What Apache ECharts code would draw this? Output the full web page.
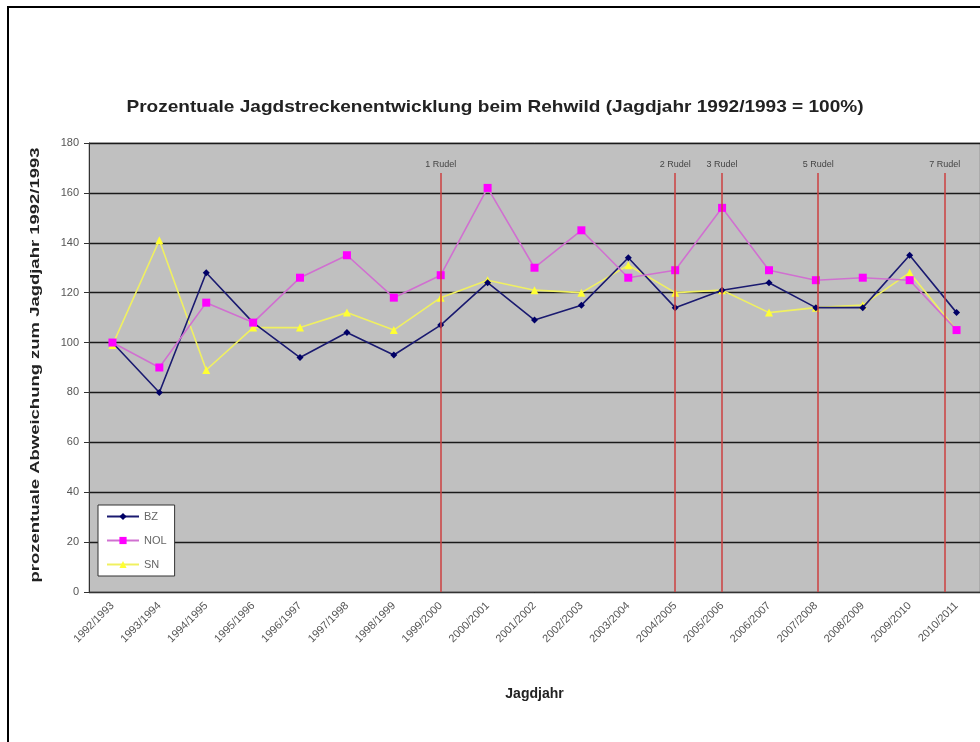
<!DOCTYPE html>
<html>
<head>
<meta charset="utf-8">
<script src="https://cdn.jsdelivr.net/npm/echarts@6/dist/echarts.min.js"></script>
<style>
  html, body { margin: 0; padding: 0; background: #fff; }
  #chart { width: 980px; height: 742px; }
</style>
</head>
<body>
<div id="chart"></div>
<script>
// Jagdjahre
var years = ['1992/1993', '1993/1994', '1994/1995', '1995/1996', '1996/1997', '1997/1998',
    '1998/1999', '1999/2000', '2000/2001', '2001/2002', '2002/2003', '2003/2004',
    '2004/2005', '2005/2006', '2006/2007', '2007/2008', '2008/2009', '2009/2010', '2010/2011'];

// prozentuale Werte (1992/1993 = 100)
var bz = [100, 80, 128, 108, 94, 104, 95, 107, 124, 109, 115, 134, 114, 121, 124, 114, 114, 135, 112];
var nol = [100, 90, 116, 108, 126, 135, 118, 127, 162, 130, 145, 126, 129, 154, 129, 125, 126, 125, 105];
var sn = [99, 141, 89, 106, 106, 112, 105, 118, 125, 121, 120, 131, 120, 121, 112, 114, 115, 128, 105];

// Rudel-Markierungen (Position auf der Jahresachse, 0 = 1992/1993)
var rudelNames = ['1 Rudel', '2 Rudel', '3 Rudel', '5 Rudel', '7 Rudel'];
var rudelPos = [7, 12, 13, 15.05, 17.75];
var rudelTop = 168;

var yTicks = [0, 180, 20];

var chart = echarts.init(document.getElementById('chart'));

var rudelLines = [];
for (var i = 0; i < rudelPos.length; i++) {
    rudelLines.push([
        {coord: [rudelPos[i], 0]},
        {coord: [rudelPos[i], rudelTop], name: rudelNames[i]}
    ]);
}

var font = 'Liberation Sans';

var option = {
    backgroundColor: '#fff',
    animation: false,
    graphic: [{
        type: 'rect',
        shape: {x: 8, y: 7, width: 1000, height: 800},
        style: {fill: null, stroke: '#000', lineWidth: 2},
        silent: true
    }, {
        // Titel
        type: 'text',
        x: 495,
        y: 107,
        scaleX: 1.12,
        silent: true,
        style: {
            text: 'Prozentuale Jagdstreckenentwicklung beim Rehwild (Jagdjahr 1992/1993 = 100%)',
            font: 'bold 17px "Liberation Sans"',
            fill: '#222',
            align: 'center',
            verticalAlign: 'middle'
        }
    }, {
        type: 'text',
        x: 35,
        y: 365,
        rotation: Math.PI / 2,
        scaleX: 1.42,
        silent: true,
        style: {
            text: 'prozentuale Abweichung zum Jagdjahr 1992/1993',
            font: 'bold 13px "Liberation Sans"',
            fill: '#222',
            align: 'center',
            verticalAlign: 'middle'
        }
    }],
    legend: {
        orient: 'vertical',
        left: 98,
        top: 505,
        backgroundColor: '#fff',
        borderColor: '#333',
        borderWidth: 1,
        padding: [6, 8, 6, 8],
        itemWidth: 32,
        itemHeight: 9,
        itemGap: 13,
        textStyle: {fontFamily: font, fontSize: 11, color: '#666'},
        data: ['BZ', 'NOL', 'SN']
    },
    grid: {
        left: 89,
        top: 143,
        width: 896,
        height: 449,
        show: true,
        backgroundColor: '#c0c0c0',
        borderColor: '#999',
        borderWidth: 1
    },
    xAxis: [{
        type: 'category',
        data: years,
        boundaryGap: true,
        name: 'Jagdjahr',
        nameLocation: 'middle',
        nameGap: 95,
        nameTextStyle: {fontFamily: font, fontSize: 14, fontWeight: 'bold', color: '#222'},
        axisLine: {lineStyle: {color: '#333', width: 1}},
        axisTick: {inside: true, length: 4, lineStyle: {color: '#333'}},
        axisLabel: {rotate: 45, fontSize: 11, margin: 12, fontFamily: font, color: '#555'},
        splitLine: {show: false}
    }, {
        type: 'value',
        min: -0.5,
        max: 18.5,
        show: false
    }],
    yAxis: {
        type: 'value',
        min: yTicks[0],
        max: yTicks[1],
        interval: yTicks[2],
        axisLine: {show: true, onZero: false, lineStyle: {color: '#333'}},
        axisTick: {show: true, length: 5, lineStyle: {color: '#333'}},
        axisLabel: {fontSize: 11, margin: 10, fontFamily: font, color: '#555'},
        splitLine: {lineStyle: {color: '#1a1a1a', width: 1.3}}
    },
    series: [{
        name: 'BZ',
        type: 'line',
        data: bz,
        symbol: 'diamond',
        symbolSize: 7,
        itemStyle: {color: '#000066'},
        lineStyle: {color: '#1a1a70', width: 1.6},
        z: 3
    }, {
        name: 'NOL',
        type: 'line',
        data: nol,
        symbol: 'rect',
        symbolSize: 8,
        itemStyle: {color: '#ff00ff'},
        lineStyle: {color: '#d070d0', width: 1.6},
        z: 4
    }, {
        name: 'SN',
        type: 'line',
        data: sn,
        symbol: 'triangle',
        symbolSize: 8,
        itemStyle: {color: '#ffff33'},
        lineStyle: {color: '#f0f060', width: 1.6},
        z: 2
    }, {
        name: 'Rudel',
        type: 'line',
        xAxisIndex: 1,
        data: [],
        silent: true,
        markLine: {
            symbol: 'none',
            silent: true,
            animation: false,
            lineStyle: {color: '#cc4040', width: 1.5, type: 'solid'},
            label: {
                show: true,
                position: 'end',
                distance: 4,
                formatter: '{b}',
                fontFamily: font,
                fontSize: 9,
                color: '#444'
            },
            data: rudelLines
        }
    }]
};

chart.setOption(option);
</script>
</body>
</html>
